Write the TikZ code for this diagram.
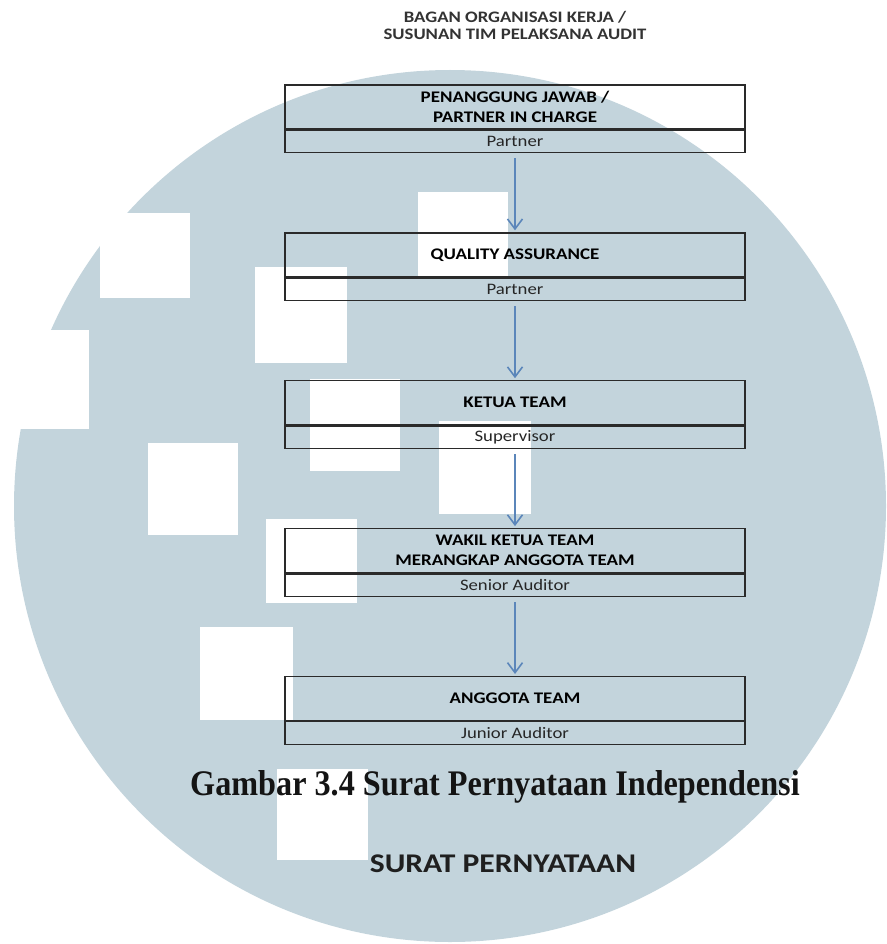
\documentclass[tikz,border=0pt]{standalone}
\usepackage{fontspec}
\newfontfamily\boxfont{Carlito}[FakeStretch=1.17]
\newfontfamily\capfont{Liberation Serif}[FakeStretch=0.895]
\usepackage{xcolor}
\definecolor{wmark}{HTML}{C3D4DC}
\definecolor{arrowblue}{HTML}{5B86BA}
\definecolor{boxline}{HTML}{2A2A2A}
\usetikzlibrary{arrows.meta, positioning}

\begin{document}
\begin{tikzpicture}[x=1pt, y=-1pt, node distance=79pt,
    >={Straight Barb[length=10pt, width=15pt]},
    role/.style={draw=boxline, line width=1.2pt, minimum width=460pt,
                 inner sep=0pt, align=center},
    rolehead/.style={role, minimum height=44pt,
                     font=\boxfont\bfseries\fontsize{16.2}{20}\selectfont},
    rolerank/.style={role, minimum height=22.5pt, text=black!85,
                     font=\boxfont\fontsize{16}{18}\selectfont},
    link/.style={->, draw=arrowblue, line width=1.6pt,
                 shorten <=5pt, shorten >=2pt}]
  \useasboundingbox (0,0) rectangle (886,944);

  \fill[wmark] (450,506) circle[radius=436];
  \foreach \xa/\ya/\xb/\yb in {100/213/190/298, 418/192/508/278, 255/267/347/363,
      0/330/89/429, 148/443/238/535, 310/379/400/471, 439/421/531/514,
      266/519/357/603, 200/627/293/720, 277/769/368/860}
    \fill[white] (\xa,\ya) rectangle (\xb,\yb);

  \node[font=\boxfont\bfseries\fontsize{16}{17}\selectfont, text=black!80,
        align=center] (title) at (515,25)
        {BAGAN ORGANISASI KERJA /\\SUSUNAN TIM PELAKSANA AUDIT};

  \node[rolehead] (pic) at (515,107) {PENANGGUNG JAWAB /\\PARTNER IN CHARGE};
  \node[rolerank, below=0pt of pic] (picrank) {Partner};

  \node[rolehead, below=of picrank] (qa) {QUALITY ASSURANCE};
  \node[rolerank, below=0pt of qa] (qarank) {Partner};

  \node[rolehead, below=of qarank] (lead) {KETUA TEAM};
  \node[rolerank, below=0pt of lead] (leadrank) {Supervisor};

  \node[rolehead, below=of leadrank] (deputy)
        {WAKIL KETUA TEAM\\MERANGKAP ANGGOTA TEAM};
  \node[rolerank, below=0pt of deputy] (deputyrank) {Senior Auditor};

  \node[rolehead, below=of deputyrank] (member) {ANGGOTA TEAM};
  \node[rolerank, below=0pt of member] (memberrank) {Junior Auditor};

  \foreach \from/\to in {picrank/qa, qarank/lead, leadrank/deputy, deputyrank/member}
    \draw[link] (\from.south) -- (\to.north);

  \node[font=\capfont\bfseries\fontsize{36}{40}\selectfont, text=black!92,
        anchor=base] (figcap) at (495,795)
        {Gambar 3.4 Surat Pernyataan Independensi};
  \node[font=\boxfont\bfseries\fontsize{27}{30}\selectfont, text=black!88,
        anchor=base] (letter) at (503,872) {SURAT PERNYATAAN};
\end{tikzpicture}
\end{document}
